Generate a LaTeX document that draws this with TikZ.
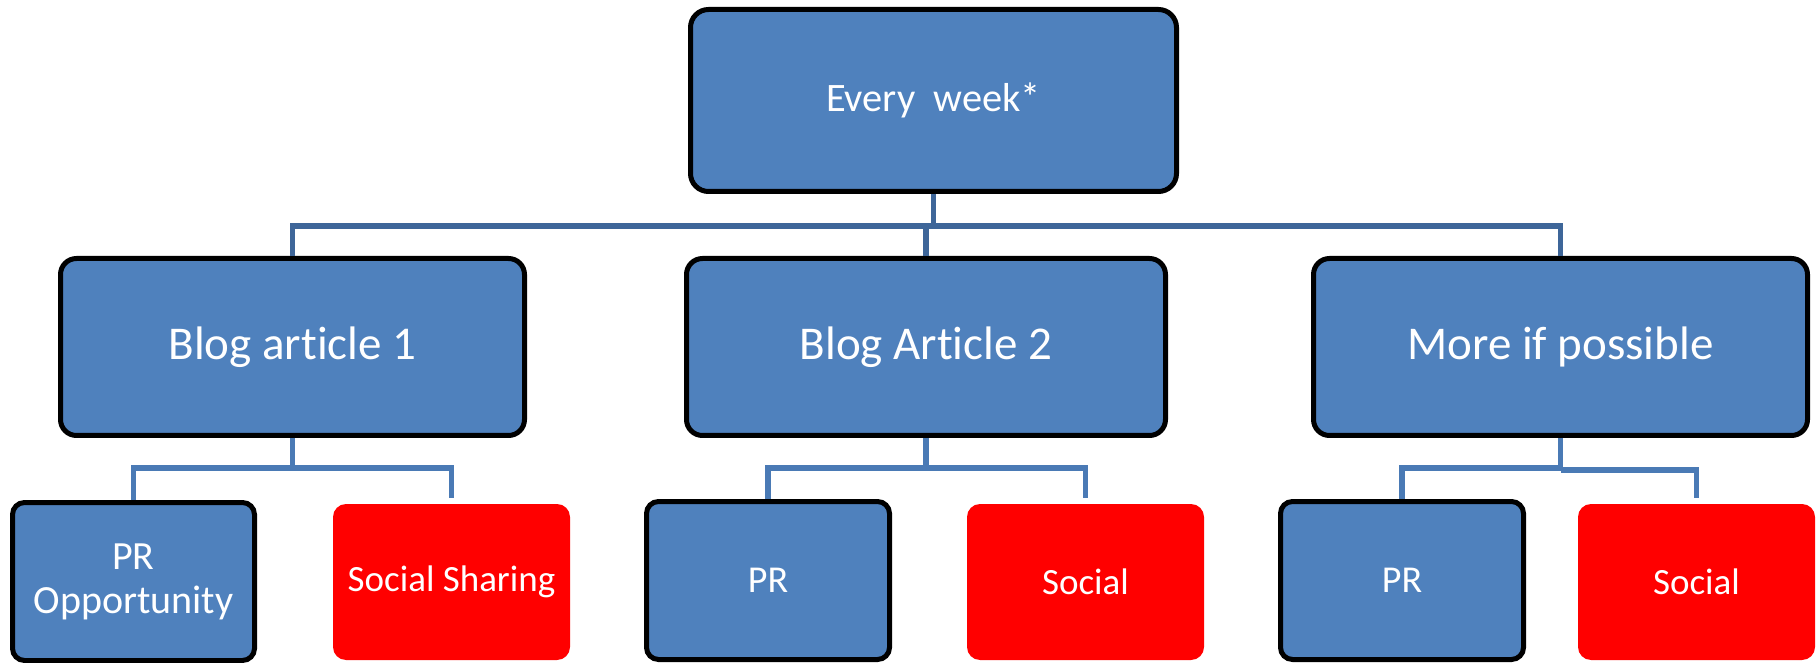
\documentclass[tikz,border=0pt]{standalone}
\usepackage{fontspec}
\setmainfont{Carlito}[Ligatures={NoCommon}]
\definecolor{boxblue}{HTML}{4F81BD}
\definecolor{linkdark}{HTML}{3E6699}
\definecolor{linklight}{HTML}{4A7AB5}
\definecolor{socialred}{HTML}{FF0000}
\begin{document}
\begin{tikzpicture}[x=0.5pt,y=-0.5pt,
  bluebox/.style={draw=black, line width=2.5pt, fill=boxblue, text=white,
    inner sep=0pt, align=center},
  redbox/.style={fill=socialred, text=white, inner sep=0pt, align=center,
    rounded corners=6.5pt, minimum width=118.5pt, minimum height=78pt,
    font=\fontsize{18.5}{21.5}\selectfont},
  midbox/.style={bluebox, rounded corners=8pt, minimum height=88.5pt,
    font=\fontsize{23.5}{27}\selectfont},
  lowbox/.style={bluebox, rounded corners=6pt, minimum height=79pt,
    font=\fontsize{19}{21.5}\selectfont},
  conntop/.style={draw=linkdark, line width=2.6pt},
  connlow/.style={draw=linklight, line width=2.6pt},
]
\useasboundingbox (0,0) rectangle (1817,663);

% top level
\node[bluebox, rounded corners=9pt, minimum width=243pt, minimum height=91pt,
  font=\fontsize{20.2}{23}\selectfont] (top) at (933.5,100.5) {Every\ \ week*};

% second level
\node[midbox, minimum width=232pt]   (b1) at (292.5,347) {Blog article 1};
\node[midbox, minimum width=239.5pt] (b2) at (926,347)   {Blog Article 2};
\node[midbox, minimum width=247pt]   (b3) at (1560.5,347) {More if possible};

% third level
\node[lowbox, minimum width=121pt, font=\fontsize{20}{22}\selectfont]
  (c11) at (133.5,581.5) {PR\\Opportunity};
\node[redbox] (c12) at (451.5,582) {Social Sharing};
\node[lowbox, minimum width=121.5pt] (c21) at (768,580.5) {PR};
\node[redbox] (c22) at (1085.5,582) {Social};
\node[lowbox, minimum width=121.5pt] (c31) at (1402,580.5) {PR};
\node[redbox] (c32) at (1696.5,582) {Social};

% connector rails
\coordinate (bar) at (0,226);
\coordinate (low) at (0,468);
\coordinate (lowB) at (0,470);

% top level to second level
\draw[conntop] (top.south) -- (top.south |- bar);
\draw[conntop] (b1.north) -- (b1.north |- bar) -- (b3.north |- bar) -- (b3.north);
\draw[conntop] (b2.north) -- (b2.north |- bar);

% second level to third level
\draw[connlow] (b1.south) -- (b1.south |- low);
\draw[connlow] (c11.north) -- (c11.north |- low) -- (c12.north |- low)
  -- ([yshift=3pt]c12.north);

\draw[connlow] (b2.south) -- (b2.south |- low);
\draw[connlow] (c21.north) -- (c21.north |- low) -- (c22.north |- low)
  -- ([yshift=3pt]c22.north);

\draw[connlow] (b3.south) -- (b3.south |- low);
\draw[connlow] (c31.north) -- (c31.north |- low) -- (b3.south |- low);
\draw[connlow] (b3.south |- lowB) -- (c32.north |- lowB)
  -- ([yshift=3pt]c32.north);
\end{tikzpicture}
\end{document}
